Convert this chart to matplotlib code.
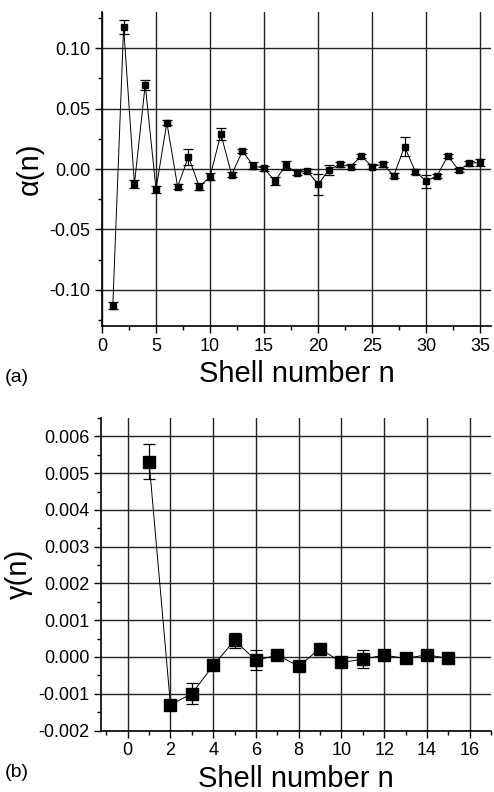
import numpy as np
import matplotlib.pyplot as plt
from matplotlib.ticker import MultipleLocator, FormatStrFormatter

plt.rcParams['font.family'] = ['Liberation Sans', 'DejaVu Sans']

# panel (a): alpha(n), shells 1..35
n_a = list(range(1, 36))
alpha = [-0.1133, 0.1175, -0.0124, 0.0697, -0.0168, 0.0384, -0.0147, 0.0102,
         -0.0147, -0.0064, 0.0290, -0.0047, 0.0149, 0.0027, 0.0006, -0.0100,
         0.0030, -0.0030, -0.0017, -0.0127, -0.0008, 0.0039, 0.0020, 0.0108,
         0.0020, 0.0040, -0.0055, 0.0185, -0.0022, -0.0100, -0.0058, 0.0108,
         -0.0008, 0.0047, 0.0055]
alpha_err = [0.003, 0.0058, 0.003, 0.004, 0.003, 0.002, 0.002, 0.0065,
             0.003, 0.003, 0.0048, 0.002, 0.002, 0.003, 0.002, 0.003,
             0.004, 0.002, 0.002, 0.0087, 0.004, 0.002, 0.002, 0.002,
             0.002, 0.002, 0.002, 0.008, 0.002, 0.0054, 0.002, 0.002,
             0.002, 0.002, 0.003]

# panel (b): gamma(n), shells 1..15
n_b = list(range(1, 16))
gamma = [0.00531, -0.00130, -0.00100, -0.00023, 0.00045, -0.00009, 0.00005,
         -0.00025, 0.00023, -0.00015, -0.00006, 0.00005, -0.00004, 0.00006,
         -0.00004]
gamma_err = [0.00047, 0.00005, 0.00028, 0.00003, 0.00020, 0.00027, 0.00003,
             0.00003, 0.00010, 0.00005, 0.00025, 0.00003, 0.00003, 0.00003,
             0.00005]

W, H = 494, 792
fig = plt.figure(figsize=(W / 100, H / 100), dpi=100)


def px_axes(left, top, right, bottom):
    return fig.add_axes([left / W, 1 - bottom / H, (right - left) / W, (bottom - top) / H])


def style(ax):
    for s in ['top', 'right']:
        ax.spines[s].set_visible(False)
    for s in ['left', 'bottom']:
        ax.spines[s].set_linewidth(1.2)
    ax.grid(True, which='major', color='#222222', linewidth=1.0)
    ax.set_axisbelow(True)
    ax.tick_params(which='major', direction='out', length=5, width=1.0, labelsize=13)
    ax.tick_params(which='minor', direction='out', length=3, width=1.0)


# ---- (a) ----
ax1 = px_axes(102, 12, 491, 326)
ax1.errorbar(n_a, alpha, yerr=alpha_err, fmt='s-', color='black', ms=5,
             lw=0.7, elinewidth=0.9, capsize=3.5, capthick=0.9)
ax1.set_xlim(0, 36)
ax1.set_ylim(-0.13, 0.13)
ax1.xaxis.set_major_locator(MultipleLocator(5))
ax1.xaxis.set_minor_locator(MultipleLocator(2.5))
ax1.yaxis.set_major_locator(MultipleLocator(0.05))
ax1.yaxis.set_minor_locator(MultipleLocator(0.025))
ax1.yaxis.set_major_formatter(FormatStrFormatter('%.2f'))
style(ax1)
ax1.set_xlabel('Shell number n', fontsize=21, labelpad=4)
ax1.set_ylabel('α(n)', fontsize=21, labelpad=4)
fig.text(5 / W, 1 - 382 / H, '(a)', fontsize=14)

# ---- (b) ----
ax2 = px_axes(101, 418, 491, 730.5)
ax2.errorbar(n_b, gamma, yerr=gamma_err, fmt='s-', color='black', ms=8,
             lw=0.7, elinewidth=0.9, capsize=4, capthick=0.9)
ax2.set_xlim(-1.25, 17)
ax2.set_ylim(-0.002, 0.0065)
ax2.xaxis.set_major_locator(MultipleLocator(2))
ax2.xaxis.set_minor_locator(MultipleLocator(1))
ax2.yaxis.set_major_locator(MultipleLocator(0.001))
ax2.yaxis.set_minor_locator(MultipleLocator(0.0005))
ax2.yaxis.set_major_formatter(FormatStrFormatter('%.3f'))
style(ax2)
ax2.set_xlabel('Shell number n', fontsize=21, labelpad=4)
ax2.set_ylabel('γ(n)', fontsize=21, labelpad=4)
fig.text(5 / W, 1 - 777 / H, '(b)', fontsize=14)

fig.savefig('out.png', dpi=100)
